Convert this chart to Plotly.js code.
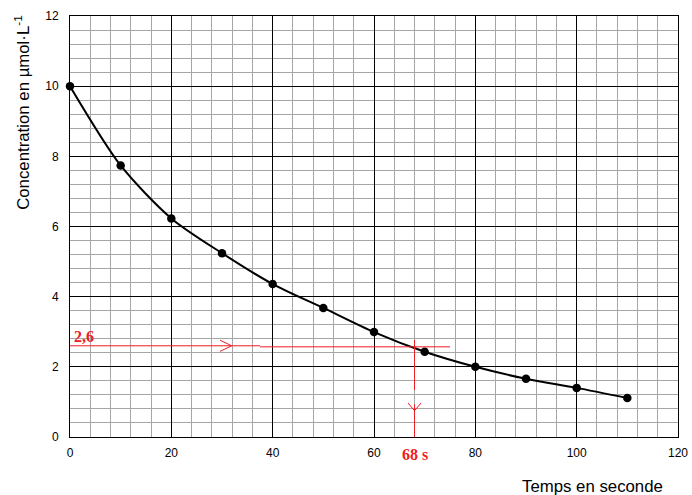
<!DOCTYPE html>
<html>
<head>
<meta charset="utf-8">
<script src="https://cdn.plot.ly/plotly-3.0.1.min.js"></script>
<style>html,body{margin:0;padding:0;background:#fff;}#chart{width:692px;height:495px;}</style>
</head>
<body>
<div id="chart"></div>
<script>
// Data
const times = [0, 10, 20, 30, 40, 50, 60, 70, 80, 90, 100, 110];
const concentrations = [10, 7.74, 6.23, 5.24, 4.36, 3.68, 2.99, 2.43, 2.0, 1.66, 1.40, 1.11];
const xTickVals = [0, 20, 40, 60, 80, 100, 120];
const yTickVals = [0, 2, 4, 6, 8, 10, 12];
const readConc = 2.6;
const readTime = 68;
const readConcLabel = "2,6";
const readTimeLabel = "68 s";

const red = '#ee1c25';
const curve = {
  x: times, y: concentrations, type: 'scatter', mode: 'lines+markers',
  line: {color: '#000', width: 2, shape: 'spline', smoothing: 0.8},
  marker: {color: '#000', size: 8.5},
  cliponaxis: false, hoverinfo: 'skip', showlegend: false
};
// arrow chevrons (reading construction)
const hArrow = {
  x: [29.6, 31.9, 29.6], y: [readConc + 0.16, readConc, readConc - 0.16],
  type: 'scatter', mode: 'lines', line: {color: red, width: 1},
  hoverinfo: 'skip', showlegend: false
};
const vArrow = {
  x: [readTime - 1.3, readTime, readTime + 1.3], y: [0.97, 0.75, 0.97],
  type: 'scatter', mode: 'lines', line: {color: red, width: 1},
  hoverinfo: 'skip', showlegend: false
};

const layout = {
  width: 692, height: 495,
  margin: {l: 70, r: 14, t: 16, b: 58},
  paper_bgcolor: '#fff', plot_bgcolor: '#fff',
  font: {family: 'Liberation Sans, Arial, sans-serif', size: 12, color: '#000'},
  xaxis: {
    range: [0, 120], tickvals: xTickVals, ticktext: xTickVals.map(String),
    showgrid: true, gridcolor: '#000', gridwidth: 1,
    minor: {dtick: 4, tick0: 0, showgrid: true, gridcolor: '#a6a6a6', gridwidth: 1},
    showline: true, linecolor: '#000', linewidth: 1, mirror: true,
    zeroline: false, ticks: 'outside', ticklen: 5, tickcolor: 'rgba(0,0,0,0)',
    tickfont: {size: 12}, fixedrange: true
  },
  yaxis: {
    range: [0, 12], tickvals: yTickVals, ticktext: yTickVals.map(String),
    showgrid: true, gridcolor: '#000', gridwidth: 1,
    minor: {dtick: 0.4, tick0: 0, showgrid: true, gridcolor: '#a6a6a6', gridwidth: 1},
    showline: true, linecolor: '#000', linewidth: 1, mirror: true,
    zeroline: false, ticks: 'outside', ticklen: 8, tickcolor: 'rgba(0,0,0,0)',
    tickfont: {size: 12}, fixedrange: true
  },
  shapes: [
    {type: 'line', xref: 'x', yref: 'y', x0: 0, x1: 37.5, y0: readConc, y1: readConc, line: {color: red, width: 1}},
    {type: 'line', xref: 'x', yref: 'y', x0: 37.5, x1: 75, y0: readConc - 0.03, y1: readConc - 0.03, line: {color: red, width: 1}},
    {type: 'line', xref: 'x', yref: 'y', x0: readTime, x1: readTime, y0: readConc + 0.17, y1: 1.34, line: {color: red, width: 1}},
    {type: 'line', xref: 'x', yref: 'y', x0: readTime, x1: readTime, y0: 0.93, y1: 0, line: {color: red, width: 1}}
  ],
  annotations: [
    {text: readConcLabel, xref: 'x', yref: 'y', x: 0.3, y: readConc, xanchor: 'left', yanchor: 'bottom', yshift: -1,
     showarrow: false, font: {family: 'Liberation Serif, Times New Roman, serif', size: 16, color: red, weight: 'bold'}},
    {text: readTimeLabel, xref: 'x', yref: 'paper', x: readTime, y: 0, xanchor: 'center', yanchor: 'middle', yshift: -17,
     showarrow: false, font: {family: 'Liberation Serif, Times New Roman, serif', size: 16, color: red, weight: 'bold'}},
    {text: 'Concentration en µmol·L<sup>-1</sup>', xref: 'paper', yref: 'paper', x: 0, y: 0.77, xshift: -48,
     textangle: -90, showarrow: false, xanchor: 'center', yanchor: 'middle', font: {size: 16.8}},
    {text: 'Temps en seconde', xref: 'paper', yref: 'paper', x: 0.86, y: 0, yshift: -49,
     showarrow: false, xanchor: 'center', yanchor: 'middle', font: {size: 16.8}}
  ]
};

Plotly.newPlot('chart', [curve, hArrow, vArrow], layout, {displayModeBar: false, staticPlot: true});
</script>
</body>
</html>
